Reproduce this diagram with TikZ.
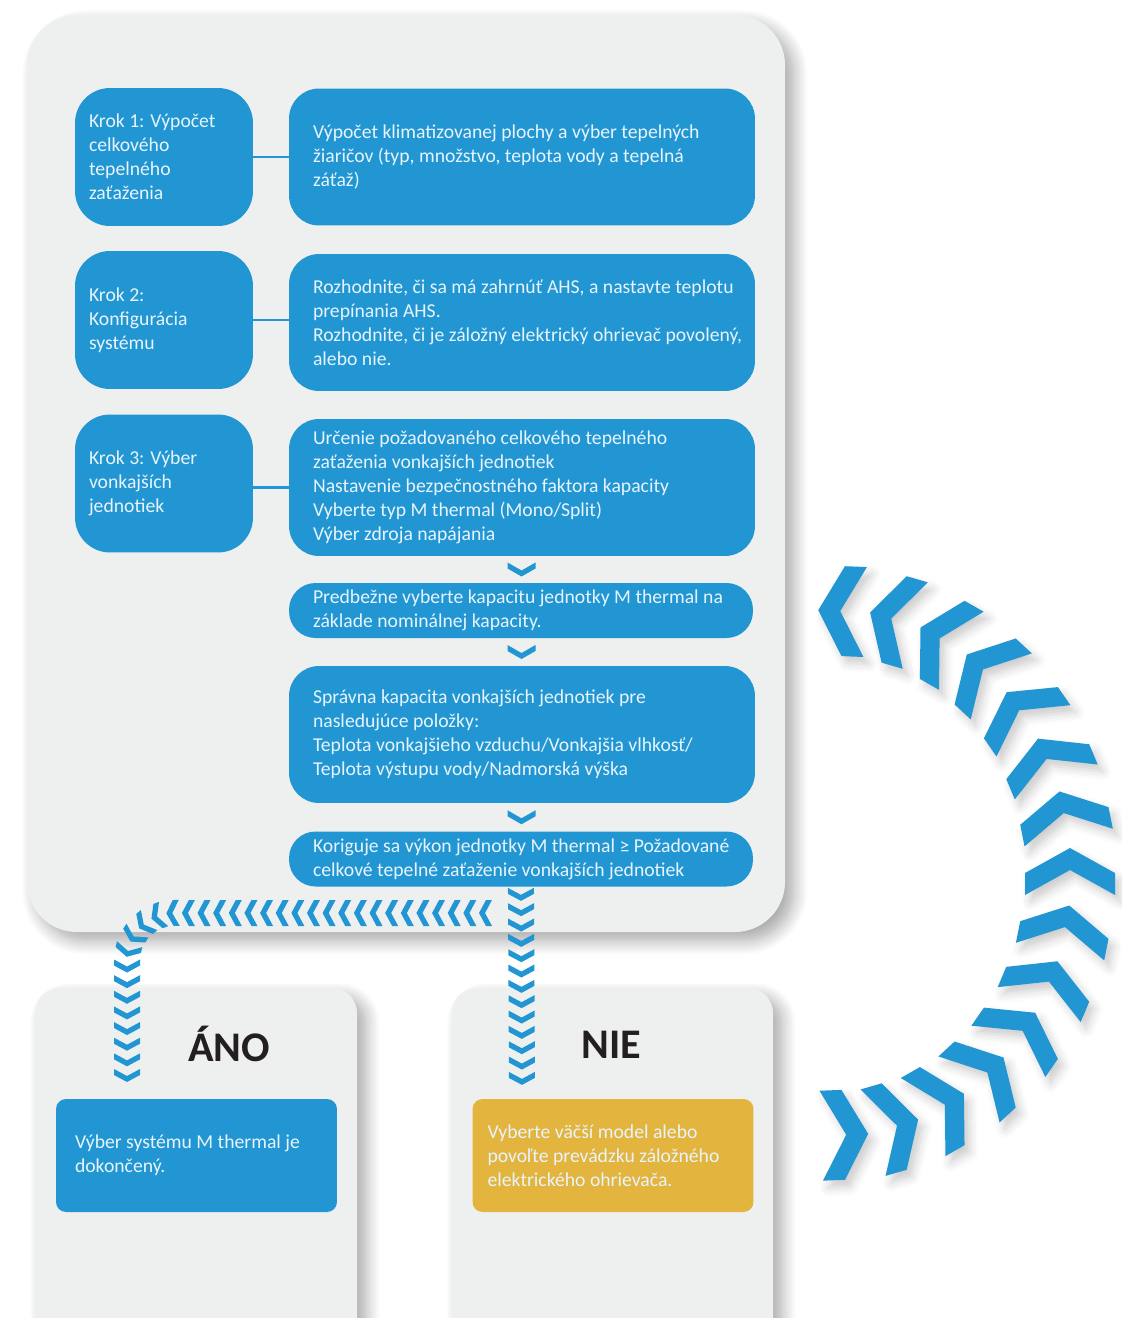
\documentclass[tikz,border=0pt]{standalone}
\usepackage{fontspec}
\setmainfont{Carlito}
\usepackage{tikz}
\usetikzlibrary{positioning,calc,decorations.markings,shadows.blur}
\definecolor{mblue}{RGB}{33,150,211}
\definecolor{myellow}{RGB}{227,180,62}
\definecolor{panel}{RGB}{238,240,239}
\definecolor{boxtext}{RGB}{232,244,252}
\definecolor{titletext}{RGB}{35,31,32}

\tikzset{
  panelshadow/.style={blur shadow={shadow xshift=5pt, shadow yshift=-5pt, shadow blur radius=8pt, shadow blur steps=12, shadow opacity=35}},
  krokbox/.style={fill=mblue, rounded corners=0.7cm, minimum width=3.56cm, minimum height=2.76cm, inner sep=0pt},
  stepbox/.style={fill=mblue, rounded corners=0.6cm, minimum width=9.32cm, minimum height=2.74cm, inner sep=0pt},
  pillbox/.style={fill=mblue, rounded corners=0.53cm, minimum width=9.28cm, minimum height=1.1cm, inner sep=0pt},
  resultbox/.style={rounded corners=0.2cm, minimum width=5.62cm, minimum height=2.26cm, inner sep=0pt},
  boxtxt/.style={text=boxtext, align=left, inner sep=0pt, font=\fontsize{11.2}{13.6}\selectfont},
  answer/.style={text=titletext, inner sep=0pt, font=\fontsize{24}{24}\selectfont\bfseries},
  link/.style={mblue, line width=1.7pt},
  chevdown/.pic={\fill[mblue] (-14,7) -- (0,-1) -- (14,7) -- (14,1) -- (0,-7) -- (-14,1) -- cycle;},
  chevchain/.style={decorate, decoration={markings, mark=between positions 0 and 1 step #1 with {\fill[mblue] (-6,13) -- (0,13) -- (7,0) -- (0,-13) -- (-6,-13) -- (1,0) -- cycle;}}},
}

\begin{document}
\begin{tikzpicture}[x=0.02cm, y=0.02cm]

    \path[use as bounding box, clip] (0,0) rectangle (1122,-1318);

    % panels
    \fill[panel, rounded corners=1cm, panelshadow] (27,-15) rectangle (785,-932);
    \fill[panel, rounded corners=0.5cm, panelshadow] (35,-988) rectangle (357,-1345);
    \fill[panel, rounded corners=0.5cm, panelshadow] (452,-988) rectangle (773,-1345);

    % step 1
    \node[krokbox] (krok1) at (164,-157) {};
    \node[boxtxt, right=0.28cm of krok1.west] (krok1t) {Krok 1: Výpočet\\celkového\\tepelného\\zaťaženia};
    \node[stepbox] (calc) at (522,-157) {};
    \node[boxtxt, right=0.48cm of calc.west] (calct) {Výpočet klimatizovanej plochy a výber tepelných\\žiaričov (typ, množstvo, teplota vody a tepelná\\záťaž)};
    \draw[link] (krok1.east) -- (calc.west);

    % step 2
    \node[krokbox] (krok2) at (164,-320) {};
    \node[boxtxt, right=0.28cm of krok2.west] (krok2t) {Krok 2:\\Konfigurácia\\systému};
    \node[stepbox] (conf) at (522,-322.5) {};
    \node[boxtxt, right=0.48cm of conf.west] (conft) {Rozhodnite, či sa má zahrnúť AHS, a nastavte teplotu\\prepínania AHS.\\Rozhodnite, či je záložný elektrický ohrievač povolený,\\alebo nie.};
    \draw[link] (krok2.east) -- (krok2.east -| conf.west);

    % step 3
    \node[krokbox] (krok3) at (164,-483.5) {};
    \node[boxtxt, right=0.28cm of krok3.west] (krok3t) {Krok 3: Výber\\vonkajších\\jednotiek};
    \node[stepbox] (vyb) at (522,-487.5) {};
    \node[boxtxt, right=0.48cm of vyb.west] (vybt) {Určenie požadovaného celkového tepelného\\zaťaženia vonkajších jednotiek\\Nastavenie bezpečnostného faktora kapacity\\Vyberte typ M thermal (Mono/Split)\\Výber zdroja napájania};
    \draw[link] (vyb.west -| krok3.east) -- (vyb.west);

    % capacity chain
    \node[pillbox] (pre) at (521,-610.5) {};
    \node[boxtxt, right=0.48cm of pre.west] (pret) {Predbežne vyberte kapacitu jednotky M thermal na\\základe nominálnej kapacity.};
    \node[stepbox] (spr) at (522,-734.5) {};
    \node[boxtxt, right=0.48cm of spr.west] (sprt) {Správna kapacita vonkajších jednotiek pre\\nasledujúce položky:\\Teplota vonkajšieho vzduchu/Vonkajšia vlhkosť/\\Teplota výstupu vody/Nadmorská výška};
    \node[pillbox] (kor) at (521,-859) {};
    \node[boxtxt, right=0.48cm of kor.west] (kort) {Koriguje sa výkon jednotky M thermal ≥ Požadované\\celkové tepelné zaťaženie vonkajších jednotiek};

    \pic at ($(vyb.south)!0.5!(pre.north)$) {chevdown};
    \pic at ($(pre.south)!0.5!(spr.north)$) {chevdown};
    \pic at ($(spr.south)!0.5!(kor.north)$) {chevdown};

    % answers
    \node[answer] (ano) at (229,-1044) {ÁNO};
    \node[answer] (nie) at (611,-1045) {NIE};
    \node[resultbox, fill=mblue] (done) at (196.5,-1155.5) {};
    \node[boxtxt, right=0.38cm of done.west] (donet) {Výber systému M thermal je\\dokončený.};
    \node[resultbox, fill=myellow] (bigger) at (613,-1155.5) {};
    \node[boxtxt, right=0.30cm of bigger.west] (biggert) {Vyberte väčší model alebo\\povoľte prevádzku záložného\\elektrického ohrievača.};

    % chevron chains
    \coordinate (anoOut) at (486,-913);
    \coordinate (anoIn) at (127,-1080);
    \coordinate (nieIn) at (522,-1080);
    \path[chevchain=8.9pt] (anoOut) -- (175,-913) arc[start angle=90, end angle=180, radius=48] -- (anoIn);
    \path[chevchain=8.73pt] ([yshift=-0.14cm]kor.south) -- (nieIn);

    % loop back
    \foreach \i in {0,...,14} {
        \pgfmathsetmacro{\t}{88-\i*176/14}
        \pgfmathsetmacro{\r}{atan2(262*cos(\t), -235*sin(\t))}
        \fill[mblue, blur shadow={shadow xshift=3pt, shadow yshift=-4pt, shadow blur radius=5pt, shadow opacity=20},
              shift={({835+235*cos(\t)},{-873+262*sin(\t)})}, rotate=\r]
            (-22,45) -- (0,45) -- (25,0) -- (0,-45) -- (-22,-45) -- (3,0) -- cycle;
    }

\end{tikzpicture}
\end{document}
